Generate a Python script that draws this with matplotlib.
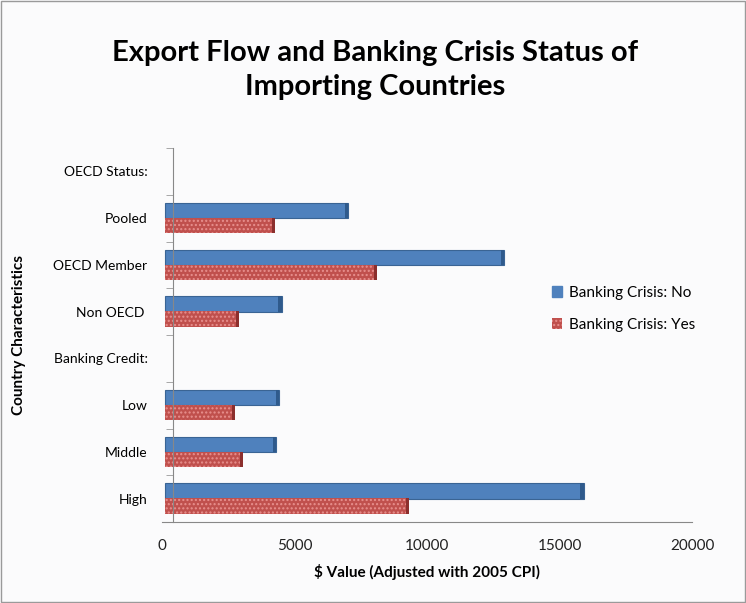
import matplotlib.pyplot as plt
import numpy as np

# Data (bottom to top as drawn)
categories = ["High", "Middle", "Low", "Banking Credit:", "Non OECD ", "OECD Member", "Pooled", "OECD Status:"]
crisis_no = [15800, 4200, 4300, 0, 4400, 12800, 6900, 0]
crisis_yes = [9200, 2950, 2650, 0, 2800, 8000, 4150, 0]

plt.rcParams['font.family'] = ['Lato', 'DejaVu Sans']

fig = plt.figure(figsize=(7.46, 6.03), dpi=100, facecolor="#fbfbfc")
ax = fig.add_axes([162 / 746, 1 - 522 / 603, (692 - 162) / 746, (522 - 148) / 603])
ax.set_facecolor("#fbfbfc")

y = np.arange(len(categories))
h = 0.33
blue = "#4f81bd"
red = "#c0504d"
depth = 130

for i, (v_no, v_yes) in enumerate(zip(crisis_no, crisis_yes)):
    if v_no == 0 and v_yes == 0:
        continue
    ax.barh(y[i] + 0.16, v_no, height=h, left=120, color=blue, edgecolor="#3a6494", linewidth=0.8)
    ax.barh(y[i] - 0.16, v_yes, height=h, left=120, color=red, edgecolor="#e8908e",
            hatch="....", linewidth=0)
    # right-side depth faces for a light 3D look
    ax.barh(y[i] + 0.16, depth, height=h, left=120 + v_no - depth, color="#2f5a8c", linewidth=0)
    ax.barh(y[i] - 0.16, depth, height=h, left=120 + v_yes - depth, color="#8c2f2d", linewidth=0)

ax.set_xlim(0, 20000)
ax.set_ylim(-0.5, len(categories) - 0.5)
ax.set_xticks([0, 5000, 10000, 15000, 20000])
ax.set_xticklabels(["0", "5000", "10000", "15000", "20000"], fontsize=11, color="#222222")
ax.set_yticks(y)
ax.set_yticklabels(categories, fontsize=11, color="#222222")
ax.set_yticks(np.arange(-0.5, len(categories), 1), minor=True)
ax.tick_params(axis="y", which="major", length=0, pad=18)
ax.tick_params(axis="y", which="minor", length=5, color="#999999")
ax.tick_params(axis="x", length=0, pad=12)

for side in ["top", "right"]:
    ax.spines[side].set_visible(False)
ax.spines["left"].set_color("#888888")
ax.spines["left"].set_position(("data", 400))
ax.spines["bottom"].set_color("#888888")

ax.set_xlabel("\\$ Value (Adjusted with 2005 CPI)", fontsize=11, fontweight="bold", labelpad=8)
ax.set_ylabel("Country Characteristics", fontsize=11, fontweight="bold", labelpad=20)

fig.text(0.503, 1 - 70 / 603, "Export Flow and Banking Crisis Status of\nImporting Countries",
         ha="center", va="center", fontsize=21, fontweight="bold", linespacing=1.35)

handles = [plt.Rectangle((0, 0), 1, 1, color=blue),
           plt.Rectangle((0, 0), 1, 1, facecolor=red, edgecolor="#e8908e", hatch="....", linewidth=0)]
fig.legend(handles, ["Banking Crisis: No", "Banking Crisis: Yes"], loc="center left",
           bbox_to_anchor=(538 / 746, 1 - 309 / 603), frameon=False, fontsize=11,
           handlelength=0.7, handleheight=0.7, handletextpad=0.4, labelspacing=1.2)

# figure border
fig.patches.append(plt.Rectangle((0.002, 0.002), 0.996, 0.996, transform=fig.transFigure,
                                 fill=False, edgecolor="#9a9a9a", linewidth=1))

fig.savefig("out.png", dpi=100, facecolor=fig.get_facecolor())
